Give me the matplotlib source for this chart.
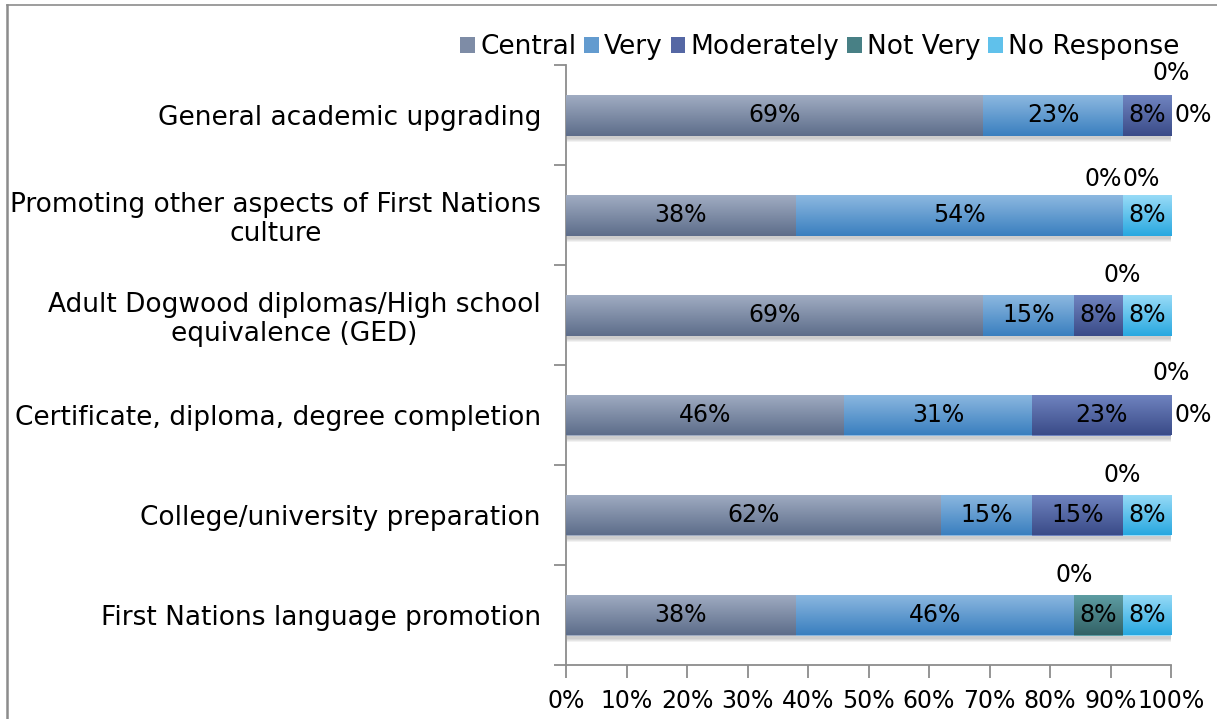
import numpy as np
import matplotlib
matplotlib.use("Agg")
import matplotlib.pyplot as plt
from matplotlib.colors import LinearSegmentedColormap
from matplotlib.patches import Rectangle, Patch

# données du graphique (de haut en bas)
categories = [
    "General academic upgrading",
    "Promoting other aspects of First Nations\nculture",
    "Adult Dogwood diplomas/High school\nequivalence (GED)",
    "Certificate, diploma, degree completion",
    "College/university preparation",
    "First Nations language promotion",
]
series_names = ["Central", "Very", "Moderately", "Not Very", "No Response"]
central = [69, 38, 69, 46, 62, 38]
very = [23, 54, 15, 31, 15, 46]
moderately = [8, 0, 8, 23, 15, 0]
not_very = [0, 0, 0, 0, 0, 8]
no_response = [0, 8, 8, 0, 8, 8]
xtick_labels = ["0%", "10%", "20%", "30%", "40%", "50%", "60%", "70%", "80%", "90%", "100%"]

# dégradés haut -> bas pour chaque série
gradients = [
    ("#a0acc2", "#5d6d8a"),
    ("#8cb8e0", "#3a7fbf"),
    ("#7084c0", "#3a4b88"),
    ("#5e9ea4", "#336266"),
    ("#98dbf7", "#28a8e0"),
]

plt.rcParams["font.family"] = ["DejaVu Sans"]
fs = 19      # libellés et légende
fs_num = 17  # pourcentages

fig = plt.figure(figsize=(12.17, 7.19), dpi=100)
ax = fig.add_axes([566 / 1217, 1 - 665 / 719, 605 / 1217, 600 / 719])

values = np.array([central, very, moderately, not_very, no_response], dtype=float)
y = np.arange(len(categories))
h = 0.41

# ombre sous les barres
totals = values.sum(axis=0)
for i in range(len(categories)):
    for k in range(4):
        ax.add_patch(Rectangle((0.2, y[i] - h / 2 + 0.03 + 0.012 * k), totals[i] + 0.3 - 0.1 * k, h,
                               facecolor="black", alpha=0.05, edgecolor="none", zorder=1))

left = np.zeros(len(categories))
for s, name in enumerate(series_names):
    top_c, bot_c = gradients[s]
    cmap = LinearSegmentedColormap.from_list(name, [top_c, bot_c])
    bars = ax.barh(y, values[s], left=left, height=h, color=top_c, edgecolor="none", zorder=2)
    for b in bars:
        if b.get_width() <= 0:
            continue
        grad = np.linspace(0, 1, 100).reshape(-1, 1)
        im = ax.imshow(grad, cmap=cmap, aspect="auto", zorder=3,
                       extent=[b.get_x(), b.get_x() + b.get_width(), b.get_y() + h, b.get_y()])
        im.set_clip_path(b)
    left += values[s]

# étiquettes des valeurs
cum = np.zeros(len(categories))
zero_pos = [[] for _ in categories]
for s in range(len(series_names)):
    for i in range(len(categories)):
        v = values[s][i]
        if v > 0:
            ax.text(cum[i] + v / 2, y[i], f"{v:.0f}%", ha="center", va="center",
                    fontsize=fs_num, color="black", zorder=5)
        else:
            zero_pos[i].append(cum[i])
        cum[i] += v

for i, zp in enumerate(zero_pos):
    if len(zp) == 1:
        ax.annotate("0%", (zp[0], y[i]), xytext=(0, 40), textcoords="offset pixels",
                    ha="center", va="center", fontsize=fs_num, annotation_clip=False)
    elif len(zp) == 2:
        if zp[1] >= 100:
            ax.annotate("0%", (zp[0], y[i]), xytext=(0, 42), textcoords="offset pixels",
                        ha="center", va="center", fontsize=fs_num, annotation_clip=False)
            ax.annotate("0%", (zp[1], y[i]), xytext=(3, 0), textcoords="offset pixels",
                        ha="left", va="center", fontsize=fs_num, annotation_clip=False)
        else:
            ax.annotate("0%", (zp[0], y[i]), xytext=(-19, 36), textcoords="offset pixels",
                        ha="center", va="center", fontsize=fs_num, annotation_clip=False)
            ax.annotate("0%", (zp[1], y[i]), xytext=(19, 36), textcoords="offset pixels",
                        ha="center", va="center", fontsize=fs_num, annotation_clip=False)

ax.set_xlim(0, 100)
ax.set_ylim(len(categories) - 0.5, -0.5)

ax.set_xticks(np.arange(0, 101, 10))
ax.set_xticklabels(xtick_labels, fontsize=fs_num)
ax.set_yticks(np.arange(-0.5, len(categories), 1.0))
ax.set_yticklabels([])
ax.set_yticks(y, minor=True)
ax.set_yticklabels(categories, minor=True, fontsize=fs, linespacing=1.15)
for t in ax.get_yticklabels(minor=True):
    t.set_multialignment("center")
ax.tick_params(axis="y", which="minor", length=0, pad=18)
ax.tick_params(axis="y", which="major", length=9, color="#8c8c8c", width=1.3)
ax.tick_params(axis="x", length=9, color="#8c8c8c", width=1.3, pad=8)

for sp in ["top", "right"]:
    ax.spines[sp].set_visible(False)
for sp in ["left", "bottom"]:
    ax.spines[sp].set_color("#8c8c8c")
    ax.spines[sp].set_linewidth(1.3)

# légende
handles = [Patch(facecolor=LinearSegmentedColormap.from_list("c", g)(0.5), edgecolor="none") for g in gradients]
fig.legend(handles, series_names, loc="center", bbox_to_anchor=(820 / 1217, 1 - 47 / 719), ncol=5,
           frameon=False, fontsize=fs, handlelength=0.55, handleheight=0.55, handletextpad=0.2,
           columnspacing=0.3)

# cadre gris de l'image
fig.add_artist(plt.Line2D([7 / 1217, 7 / 1217], [0, 1 - 5 / 719], transform=fig.transFigure,
                          color="#8c8c8c", lw=1.8))
fig.add_artist(plt.Line2D([7 / 1217, 1], [1 - 5 / 719, 1 - 5 / 719], transform=fig.transFigure,
                          color="#8c8c8c", lw=1.2))

plt.savefig("out.png", dpi=100)
